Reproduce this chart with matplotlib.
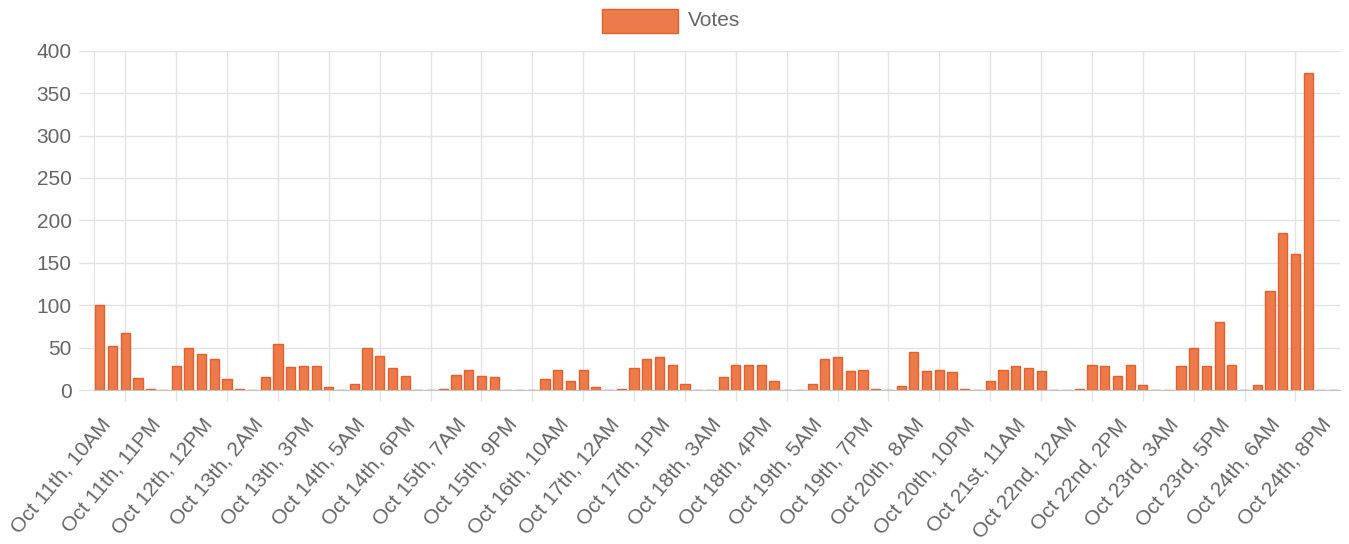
import matplotlib
matplotlib.use('Agg')
import matplotlib.pyplot as plt
from matplotlib.patches import Rectangle
import matplotlib.transforms as mtransforms
import numpy as np

plt.rcParams['font.family'] = ['Liberation Sans', 'DejaVu Sans']

# ---- data ----
series_name = "Votes"
votes = [100, 52, 67, 14, 1, 0, 28, 49, 43, 36, 13, 1, 0, 15, 54, 27, 28, 28, 4, 0,
         7, 50, 40, 26, 16, 0, 0, 1, 18, 24, 16, 15, 0, 0, 0, 13, 24, 11, 24, 4,
         0, 1, 26, 36, 39, 29, 7, 0, 0, 15, 30, 30, 29, 11, 0, 0, 7, 37, 39, 22,
         24, 1, 0, 5, 45, 22, 24, 21, 1, 0, 11, 23, 28, 26, 22, 0, 0, 1, 30, 28,
         17, 30, 6, 0, 0, 28, 50, 28, 80, 30, 0, 6, 117, 185, 160, 374, 0, 0]
tick_labels = ["Oct 11th, 10AM", "Oct 11th, 11PM", "Oct 12th, 12PM", "Oct 13th, 2AM",
               "Oct 13th, 3PM", "Oct 14th, 5AM", "Oct 14th, 6PM", "Oct 15th, 7AM",
               "Oct 15th, 9PM", "Oct 16th, 10AM", "Oct 17th, 12AM", "Oct 17th, 1PM",
               "Oct 18th, 3AM", "Oct 18th, 4PM", "Oct 19th, 5AM", "Oct 19th, 7PM",
               "Oct 20th, 8AM", "Oct 20th, 10PM", "Oct 21st, 11AM", "Oct 22nd, 12AM",
               "Oct 22nd, 2PM", "Oct 23rd, 3AM", "Oct 23rd, 5PM", "Oct 24th, 6AM",
               "Oct 24th, 8PM"]
label_step = 4
y_ticks = [0, 50, 100, 150, 200, 250, 300, 350, 400]

# ---- style ----
W, H, DPI = 1349, 544, 100
fill = '#EC7A4A'
edge = '#E5602A'
grid_c = '#E3E3E3'
zero_c = '#C4C4C4'
text_c = '#666666'
fs = 15

fig = plt.figure(figsize=(W / DPI, H / DPI), dpi=DPI)
ax = fig.add_axes([93.5 / W, (H - 390) / H, (1340 - 93.5) / W, (390 - 50.7) / H])

x = np.arange(len(votes))
ax.bar(x, votes, width=0.72, color=fill, edgecolor=edge, linewidth=1.0, zorder=3)

ax.set_xlim(-0.5, len(votes) - 0.5)
ax.set_ylim(0, 400)

# x axis: labels every 4 categories, grid lines offset
major_pos = x[::label_step]
ax.set_xticks(major_pos)
ax.set_xticklabels(tick_labels[:len(major_pos)])
minor_pos = x[2::label_step]
ax.set_xticks(minor_pos, minor=True)
ax.tick_params(axis='x', which='major', length=0, pad=22.3, labelsize=fs, labelcolor=text_c)
ax.tick_params(axis='x', which='minor', length=8, width=1, color=grid_c)
ax.grid(True, axis='x', which='minor', color=grid_c, linewidth=1, zorder=0)

offset = mtransforms.ScaledTranslation(7 / DPI, 0, fig.dpi_scale_trans)
for lab in ax.get_xticklabels():
    lab.set_rotation(50)
    lab.set_ha('right')
    lab.set_va('center')
    lab.set_rotation_mode('anchor')
    lab.set_transform(lab.get_transform() + offset)

# y axis
ax.set_yticks(y_ticks)
ax.tick_params(axis='y', length=10.8, width=1, color=grid_c, pad=5, labelsize=fs, labelcolor=text_c)
ax.grid(True, axis='y', color=grid_c, linewidth=1, zorder=0)

for s in ['top', 'right']:
    ax.spines[s].set_visible(False)
ax.spines['left'].set_color(grid_c)
ax.spines['bottom'].set_color(zero_c)
ax.spines['bottom'].set_zorder(4)
ax.set_axisbelow(True)

# legend
fig.patches.append(Rectangle((601.7 / W, 1 - 33 / H), 76.6 / W, 24 / H,
                             transform=fig.transFigure, facecolor=fill, edgecolor=edge,
                             linewidth=1.0))
fig.text(687.5 / W, 1 - 21 / H, series_name, fontsize=fs, color=text_c, va='center', ha='left')

fig.savefig('out.png', dpi=DPI)
